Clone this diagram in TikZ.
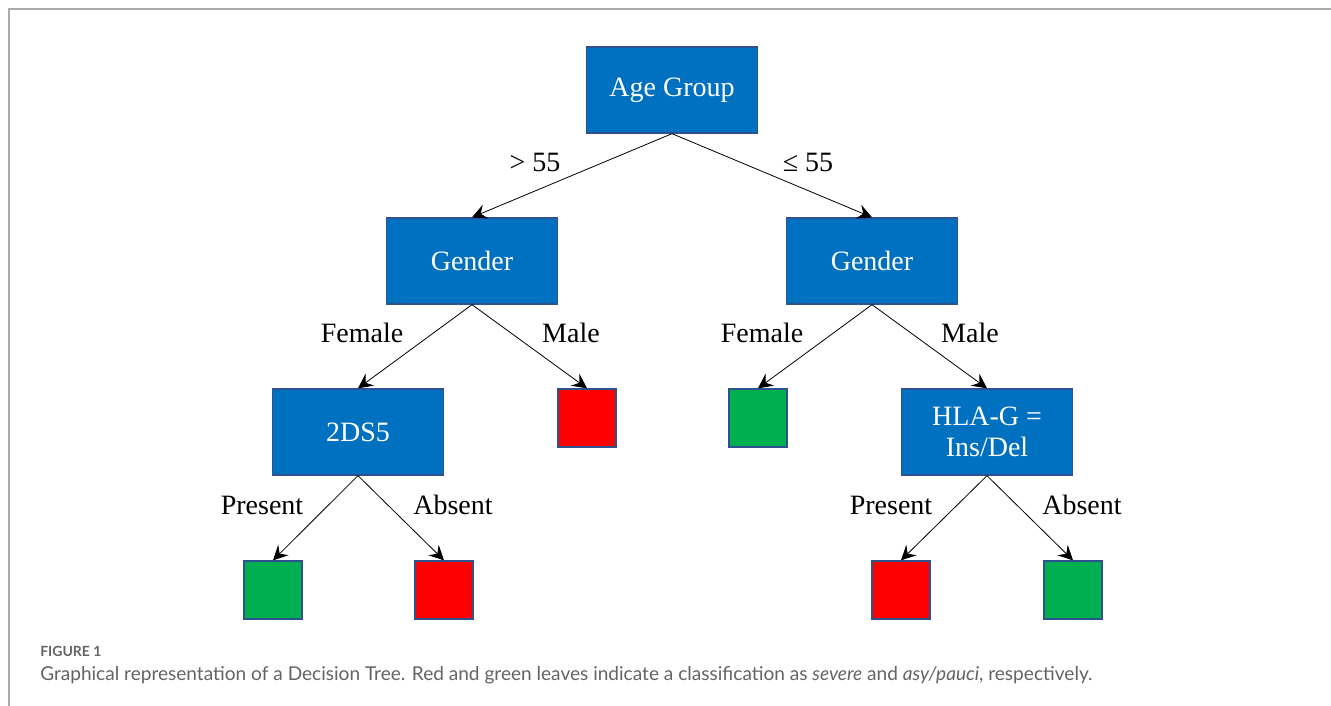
\documentclass[tikz,border=0pt]{standalone}
\usepackage{fontspec}
\setmainfont{Liberation Serif}
\newfontfamily\capfont{Lato}
\usetikzlibrary{arrows.meta}
\definecolor{boxblue}{RGB}{0,112,192}
\definecolor{boxedge}{RGB}{47,82,143}
\definecolor{leafred}{RGB}{255,0,0}
\definecolor{leafgreen}{RGB}{0,176,80}
\definecolor{framegray}{RGB}{170,170,170}
\definecolor{capgray}{RGB}{100,100,100}
\begin{document}
\begin{tikzpicture}[x=0.75pt,y=-0.75pt,
  decision/.style={draw=boxedge,line width=1pt,fill=boxblue,text=white,minimum width=171*0.75pt,minimum height=86*0.75pt,font=\fontsize{21}{24}\selectfont,align=center,inner sep=0pt},
  leafbox/.style={draw=boxedge,line width=1pt,minimum width=58*0.75pt,minimum height=58*0.75pt,inner sep=0pt},
  severe/.style={leafbox,fill=leafred},
  mild/.style={leafbox,fill=leafgreen},
  branch/.style={-{Stealth[length=11pt,width=11pt,inset=4pt]},line width=0.6pt,black},
  blabel/.style={font=\fontsize{21}{24}\selectfont,inner sep=0pt}]
\useasboundingbox (0,0) rectangle (1331,706);
\fill[white] (0,0) rectangle (1331,706);
\draw[framegray,line width=1.5pt] (9,706) -- (9,9) -- (1331,9);
% nodes
\node[decision] (age) at (672,90) {\raisebox{-2pt}{Age Group}};
\node[decision] (gl) at (472,261) {\raisebox{-2pt}{Gender}};
\node[decision] (gr) at (872,261) {\raisebox{-2pt}{Gender}};
\node[decision] (ds) at (358,432) {\raisebox{-2pt}{2DS5}};
\node[severe] (l1) at (587,418) {};
\node[mild] (l2) at (758,418) {};
\node[decision] (hla) at (987,432) {HLA-G =\\[-1pt]Ins/Del};
\node[mild] (l3) at (273,590) {};
\node[severe] (l4) at (444,590) {};
\node[severe] (l5) at (901,590) {};
\node[mild] (l6) at (1073,590) {};
% edges
\draw[branch] (age.south) -- (gl.north);
\draw[branch] (age.south) -- (gr.north);
\draw[branch] (gl.south) -- (ds.north);
\draw[branch] (gl.south) -- (l1.north);
\draw[branch] (gr.south) -- (l2.north);
\draw[branch] (gr.south) -- (hla.north);
\draw[branch] (ds.south) -- (l3.north);
\draw[branch] (ds.south) -- (l4.north);
\draw[branch] (hla.south) -- (l5.north);
\draw[branch] (hla.south) -- (l6.north);
% labels
\node[blabel] (t1) at (535,162) {> 55};
\node[blabel] (t2) at (808,162) {≤ 55};
\node[blabel] (t3) at (362,333) {Female};
\node[blabel] (t4) at (571,333) {Male};
\node[blabel] (t5) at (762,333) {Female};
\node[blabel] (t6) at (970,333) {Male};
\node[blabel] (t7) at (262,505) {Present};
\node[blabel] (t8) at (453,505) {Absent};
\node[blabel] (t9) at (891,505) {Present};
\node[blabel] (t10) at (1082,505) {Absent};
% caption
\node[anchor=west,inner sep=0pt,text=capgray,font=\capfont\bfseries\fontsize{10.5}{12}\selectfont] (fig) at (40,651) {FIGURE 1};
\node[anchor=west,inner sep=0pt,text=capgray,font=\capfont\fontsize{14.3}{16}\selectfont] (cap) at (40,675) {Graphical representation of a Decision Tree. Red and green leaves indicate a classification as \textit{severe} and \textit{asy/pauci}, respectively.};
\end{tikzpicture}
\end{document}
